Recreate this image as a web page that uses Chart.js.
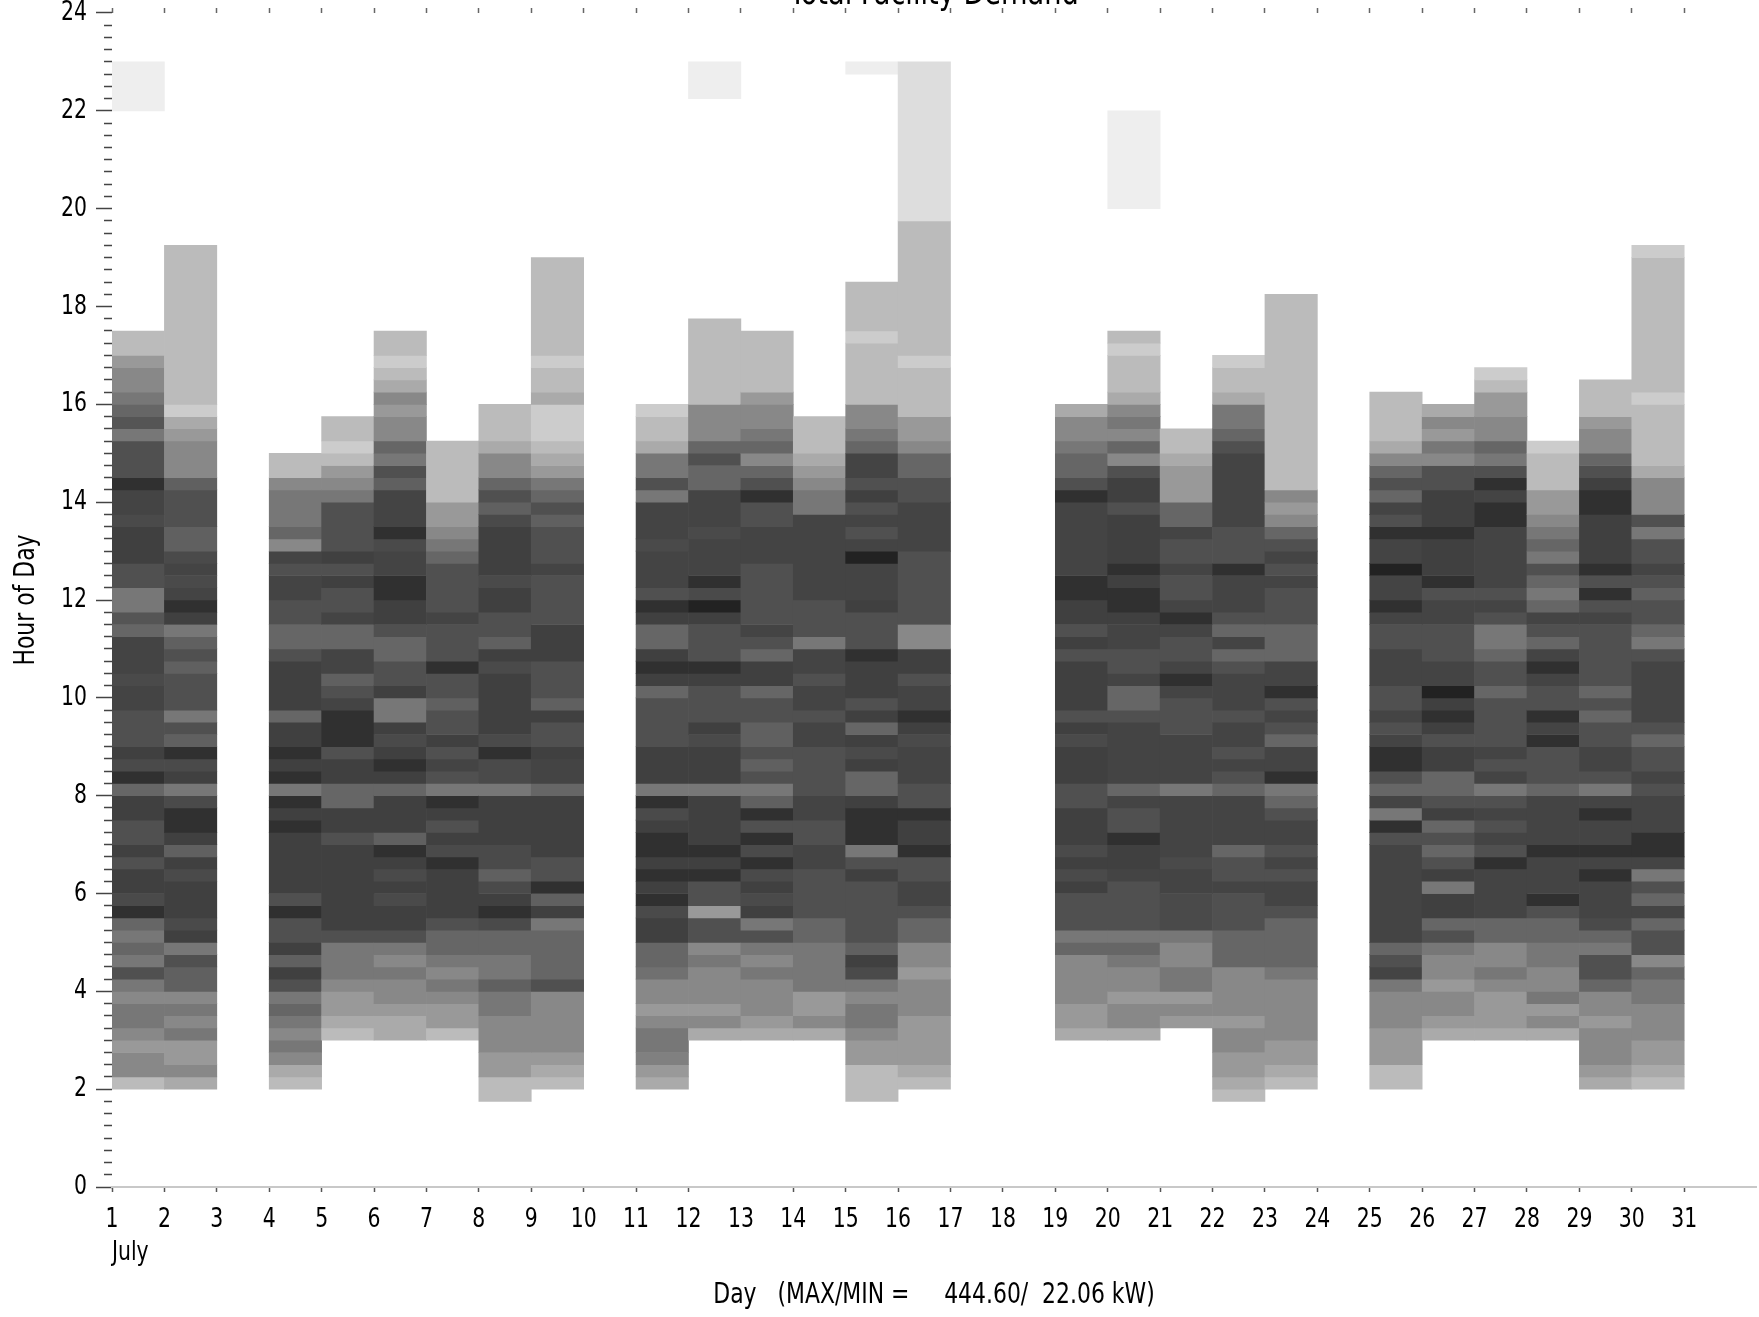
<!DOCTYPE html>
<html>
<head>
<meta charset="utf-8">
<script src="https://cdn.jsdelivr.net/npm/chart.js@4.4.1/dist/chart.umd.min.js"></script>
<style>
html,body{margin:0;padding:0;background:#fff;overflow:hidden}
#wrap{position:absolute;left:0;top:0;width:1759px;height:1317px}
</style>
</head>
<body>
<div id="wrap"><canvas id="c"></canvas></div>
<script>
// ---- text ----
const TITLE = 'Total Facility Demand';
const X_TITLE = 'Day   (MAX/MIN =     444.60/  22.06 kW)';
const Y_TITLE = 'Hour of Day';
const MONTH_LABEL = 'July';
const DAY_LABELS = [1,2,3,4,5,6,7,8,9,10,11,12,13,14,15,16,17,18,19,20,21,22,23,24,25,26,27,28,29,30,31];
const HOUR_LABELS = [0,2,4,6,8,10,12,14,16,18,20,22,24];
const KW_MIN = 22.06, KW_MAX = 444.60;
const SLOT = 0.25; // 15-minute intervals

// ---- demand per 15-minute slot (kW), listed upward from each block's start hour ----
const jul01 = [124,226,226,192,226,260,260,226,260,338,260,294,260,294,402,350,370,370,338,370,338,338,370,370,294,402,350,370,338,338,338,362,362,350,362,362,362,294,328,260,260,338,338,370,370,370,350,362,362,402,338,338,338,260,328,294,260,226,226,192,124,124];
const jul01Late = [22,22,22,22];
const jul02 = [158,226,192,192,260,226,260,226,306,306,338,260,370,350,370,370,370,350,370,306,370,402,402,350,260,370,350,402,306,338,260,338,338,338,306,338,306,260,370,402,362,350,362,350,306,306,338,338,338,306,226,226,226,192,158,90,124,124,124,124,124,124,124,124,124,124,124,124,124];
const jul04 = [124,158,226,260,226,260,294,260,338,370,306,370,338,338,402,338,370,370,370,370,370,402,370,402,260,402,370,402,370,370,294,370,370,370,370,338,294,294,338,338,362,362,338,362,226,294,260,260,260,226,124,124];
const jul05 = [124,158,192,192,226,260,260,260,338,370,370,370,370,370,370,370,338,370,370,294,294,370,370,338,402,402,402,362,338,306,362,362,294,294,362,338,338,370,338,370,338,338,338,338,260,226,192,124,90,124,124];
const jul06 = [158,158,192,226,226,260,226,260,338,370,370,350,370,350,370,402,306,370,370,370,294,370,402,370,350,370,260,260,370,338,338,294,294,338,370,370,402,402,362,362,350,402,362,362,362,306,338,260,294,226,226,192,226,158,124,90,124,124];
const jul07 = [124,192,192,226,260,226,260,294,294,338,370,370,370,370,402,350,370,338,370,402,260,338,362,338,370,338,338,306,338,338,402,338,338,338,362,338,338,338,338,294,260,226,192,192,124,124,124,124,124];
const jul08 = [124,124,192,192,226,226,226,260,260,306,260,260,294,294,350,402,370,350,306,350,350,370,370,370,370,260,350,350,402,350,370,370,370,370,370,350,370,306,338,338,370,370,350,370,370,370,370,350,306,338,294,226,226,158,124,124,124];
const jul09 = [124,158,192,226,226,226,226,226,338,294,294,294,294,260,370,306,402,338,338,370,370,370,370,370,294,362,362,370,338,338,370,306,338,338,338,370,370,370,338,338,338,338,362,338,338,338,306,338,294,260,192,158,124,90,90,90,158,124,124,90,124,124,124,124,124,124,124,124];
const jul11 = [158,192,242,260,260,226,192,226,226,274,294,294,370,370,350,402,370,402,370,402,402,370,350,402,260,370,370,370,338,338,338,338,294,370,402,370,294,294,370,402,338,362,362,362,350,362,362,362,260,338,260,260,158,124,124,90];
const jul12 = [158,226,192,226,226,226,260,226,338,338,192,338,338,402,370,402,370,370,370,370,260,370,370,370,350,370,338,338,338,370,402,338,338,338,370,430,350,402,362,362,362,350,362,362,362,294,294,338,294,226,226,226,124,124,124,124,124,124,124];
const jul12Late = [22,22,22];
const jul13 = [158,192,226,226,226,260,226,260,338,260,370,350,370,350,402,350,402,338,402,306,260,338,306,338,306,306,338,338,294,370,370,294,338,362,338,338,338,338,338,362,362,362,338,338,402,338,294,226,294,260,226,226,192,124,124,124,124,124];
const jul14 = [158,226,192,192,260,260,260,260,294,294,338,338,338,338,362,362,338,338,362,362,338,338,338,338,362,362,338,362,362,338,362,362,260,338,338,338,362,362,362,362,362,362,362,260,260,226,192,158,124,124,124];
const jul15 = [124,124,124,192,192,226,260,260,226,260,350,370,306,338,338,338,338,338,370,338,260,402,402,402,370,294,294,370,350,370,294,370,338,370,370,370,402,338,338,338,370,362,362,362,430,362,338,362,338,370,338,362,362,294,260,226,226,124,124,124,124,124,90,124,124,124,124];
const jul15Late = [22];
const jul16 = [124,158,192,192,192,192,226,226,226,192,226,226,294,294,338,362,362,338,338,402,370,370,402,338,338,362,362,362,350,370,402,362,362,338,370,370,226,226,338,338,338,338,338,338,362,362,362,362,338,338,294,294,226,192,192,124,124,124,124,90,124,124,124,124,124,124,124,124,124,124,124,56,56,56,56,56,56,56,56,56,56,56,56,56];
const jul19 = [158,192,192,226,226,226,226,294,260,338,338,338,370,350,370,350,370,370,370,338,338,370,370,370,350,370,338,370,370,370,370,338,370,338,370,370,402,402,362,362,362,362,362,362,402,338,294,294,260,226,226,158];
const jul20 = [158,226,226,192,226,226,260,294,260,338,338,338,338,362,370,370,402,338,338,362,294,362,362,362,362,362,338,294,294,362,338,338,362,362,370,402,402,370,402,370,370,370,370,338,370,370,338,226,294,226,260,226,158,124,124,124,90,124];
const jul20Late = [22,22,22,22,22,22,22,22];
const jul21 = [192,226,192,260,260,226,226,260,350,350,350,362,362,350,362,362,362,362,362,260,362,362,362,362,338,338,338,362,402,362,338,338,362,402,362,338,338,362,338,338,362,294,294,192,192,192,158,124,124];
const jul22 = [124,158,192,192,226,226,192,226,226,226,226,294,294,294,338,338,338,362,338,338,294,362,362,362,362,294,338,362,338,362,362,338,362,362,362,338,294,362,294,338,362,362,362,402,338,338,338,362,362,362,362,362,362,338,294,260,260,158,124,124,90];
const jul23 = [124,158,192,192,226,226,226,226,226,260,294,294,294,294,338,362,362,338,362,338,362,362,338,294,260,402,362,362,294,338,362,338,402,362,362,294,294,294,338,338,338,362,338,362,338,294,226,192,226,124,124,124,124,124,124,124,124,124,124,124,124,124,124,124,124];
const jul25 = [124,124,192,192,192,226,226,226,260,362,338,294,362,362,362,362,362,362,362,362,338,402,260,362,294,338,402,402,362,338,362,338,338,362,362,362,338,338,362,402,362,362,430,362,362,402,338,362,294,338,294,226,158,124,124,124,124];
const jul26 = [158,192,226,226,192,226,226,260,338,294,370,370,260,370,338,294,338,294,370,338,294,294,370,370,338,370,402,370,430,362,362,338,338,338,362,362,338,402,370,370,370,402,370,370,370,338,338,226,260,192,226,158];
const jul27 = [158,192,192,192,226,260,226,226,294,294,362,362,362,362,402,338,362,338,362,338,260,362,338,362,338,338,338,338,294,338,338,294,260,260,338,362,338,362,362,362,362,362,402,402,362,402,338,260,294,226,226,192,192,124,90];
const jul28 = [158,226,192,260,226,226,260,260,294,294,338,402,362,362,362,402,362,362,362,362,294,338,338,338,402,362,402,338,338,362,402,362,294,338,362,294,260,294,338,260,294,260,226,192,192,124,124,124,90];
const jul29 = [158,192,226,226,226,192,226,226,294,338,338,260,294,350,362,362,362,402,362,402,362,362,402,362,260,338,362,362,338,338,294,338,294,338,338,338,338,338,362,338,402,338,402,370,370,370,370,402,402,370,338,294,226,226,192,124,124,124];
const jul30 = [124,158,192,192,226,226,226,260,260,294,226,338,338,294,362,294,338,260,362,402,402,362,362,362,338,362,338,338,294,338,362,362,362,362,362,338,260,294,338,338,306,338,362,338,338,260,338,226,226,226,158,124,124,124,124,124,90,124,124,124,124,124,124,124,124,124,124,124,90];

// [day, start hour, values]
const columns = [
  [1, 2.0, jul01], [1, 22.0, jul01Late], [2, 2.0, jul02], [4, 2.0, jul04], [5, 3.0, jul05],
  [6, 3.0, jul06], [7, 3.0, jul07], [8, 1.75, jul08], [9, 2.0, jul09], [11, 2.0, jul11],
  [12, 3.0, jul12], [12, 22.25, jul12Late], [13, 3.0, jul13], [14, 3.0, jul14],
  [15, 1.75, jul15], [15, 22.75, jul15Late], [16, 2.0, jul16], [19, 3.0, jul19],
  [20, 3.0, jul20], [20, 20.0, jul20Late], [21, 3.25, jul21], [22, 1.75, jul22],
  [23, 2.0, jul23], [25, 2.0, jul25], [26, 3.0, jul26], [27, 3.0, jul27],
  [28, 3.0, jul28], [29, 2.0, jul29], [30, 2.0, jul30]
];

// build floating bar cells (runs of equal value merged)
const cells = [];
columns.forEach(([day, start, vals]) => {
  let i = 0;
  while (i < vals.length) {
    let j = i;
    while (j + 1 < vals.length && vals[j + 1] === vals[i]) j++;
    cells.push({ x: day + 0.5, y: [start + i * SLOT, start + (j + 1) * SLOT], v: vals[i] });
    i = j + 1;
  }
});

function shade(kw) {
  const g = Math.max(0, Math.min(255, Math.round(238 - (kw - KW_MIN) / 2)));
  return 'rgb(' + g + ',' + g + ',' + g + ')';
}

// emulate the condensed typeface of the original (text stays real canvas text)
const TEXT_SQUEEZE = 0.84;
const _fillText = CanvasRenderingContext2D.prototype.fillText;
CanvasRenderingContext2D.prototype.fillText = function (text, x, y, maxWidth) {
  this.save();
  this.translate(x, y);
  this.scale(TEXT_SQUEEZE, 1);
  if (maxWidth === undefined) _fillText.call(this, text, 0, 0);
  else _fillText.call(this, text, 0, 0, maxWidth / TEXT_SQUEEZE);
  this.restore();
};

const FONT = "'Liberation Sans Narrow', 'Arial Narrow', 'DejaVu Sans Condensed', sans-serif";
const X_MAX = 32.37;
const dayTicks = () => DAY_LABELS.map(v => ({ value: v }));
const quarterTicks = [];
for (let q = 0; q <= 96; q++) quarterTicks.push({ value: q * SLOT });

new Chart(document.getElementById('c'), {
  type: 'bar',
  data: {
    datasets: [{
      data: cells,
      backgroundColor: c => shade(c.raw ? c.raw.v : KW_MIN),
      borderWidth: 0,
      barPercentage: 1,
      categoryPercentage: 1
    }]
  },
  options: {
    responsive: true,
    maintainAspectRatio: false,
    animation: false,
    events: [],
    layout: { padding: { left: 0, right: 3, top: 0, bottom: 0 } },
    plugins: {
      legend: { display: false },
      tooltip: { enabled: false },
      title: {
        display: true, text: TITLE, fullSize: false, color: '#000',
        font: { family: FONT, size: 36, weight: 'normal', lineHeight: 1.2 },
        padding: { top: -27.1, bottom: -8.1 }
      }
    },
    scales: {
      x: {
        type: 'linear', position: 'bottom', weight: 1, min: 1, max: X_MAX, offset: false,
        afterBuildTicks: s => { s.ticks = dayTicks(); },
        afterFit: s => { s.height = 50; s.paddingLeft = 0; s.paddingRight = 0; },
        ticks: { autoSkip: false, maxRotation: 0, padding: 12, color: '#000',
          font: { family: FONT, size: 27, lineHeight: 1.2 }, callback: v => String(v) },
        grid: { display: true, drawOnChartArea: false, drawTicks: true, offset: false, tickLength: 5,
          tickWidth: 1.5, tickColor: c => (c.tick && c.tick.value === 13) ? 'rgba(0,0,0,0)' : '#555' },
        border: { display: true, color: '#c8c8c8', width: 2 }
      },
      xm: {
        type: 'linear', position: 'bottom', weight: 2, min: 1, max: X_MAX, offset: false,
        afterBuildTicks: s => { s.ticks = [{ value: DAY_LABELS[0] }]; },
        afterFit: s => { s.height = 80; s.paddingLeft = 0; s.paddingRight = 0; },
        ticks: { autoSkip: false, maxRotation: 0, align: 'start', padding: 0, color: '#000',
          font: { family: FONT, size: 27, lineHeight: 1.2 }, callback: () => MONTH_LABEL },
        grid: { display: false, drawTicks: false, offset: false },
        border: { display: false },
        title: { display: true, text: X_TITLE, color: '#000',
          font: { family: FONT, size: 29, lineHeight: 1.2 }, padding: { top: 8, bottom: 4.6 } }
      },
      xt: {
        type: 'linear', position: 'top', min: 1, max: X_MAX, offset: false,
        afterBuildTicks: s => { s.ticks = dayTicks(); },
        afterFit: s => { s.height = 5; s.paddingLeft = 0; s.paddingRight = 0; },
        ticks: { display: false },
        grid: { display: true, drawOnChartArea: false, drawTicks: true, offset: false, tickLength: 5,
          tickWidth: 1.5, tickColor: '#666' },
        border: { display: false }
      },
      y: {
        type: 'linear', position: 'left', min: 0, max: 24,
        afterBuildTicks: s => { s.ticks = quarterTicks.map(t => ({ value: t.value })); },
        afterFit: s => { s.width = 112; s.paddingTop = 0; s.paddingBottom = 0; },
        ticks: { autoSkip: false, padding: 9, color: '#000',
          font: { family: FONT, size: 27, lineHeight: 1.2 },
          callback: v => (HOUR_LABELS.includes(v) ? String(v) : '') },
        grid: { display: true, drawOnChartArea: false, drawTicks: true, tickLength: 16,
          tickWidth: 1.5, tickColor: '#444',
          tickBorderDash: c => (c.tick && HOUR_LABELS.includes(c.tick.value)) ? [] : [0, 8, 8, 0] },
        border: { display: false },
        title: { display: true, text: Y_TITLE, color: '#000',
          font: { family: FONT, size: 29, lineHeight: 1.2 }, padding: { top: 8.6, bottom: 10 } }
      }
    }
  }
});
</script>
</body>
</html>
